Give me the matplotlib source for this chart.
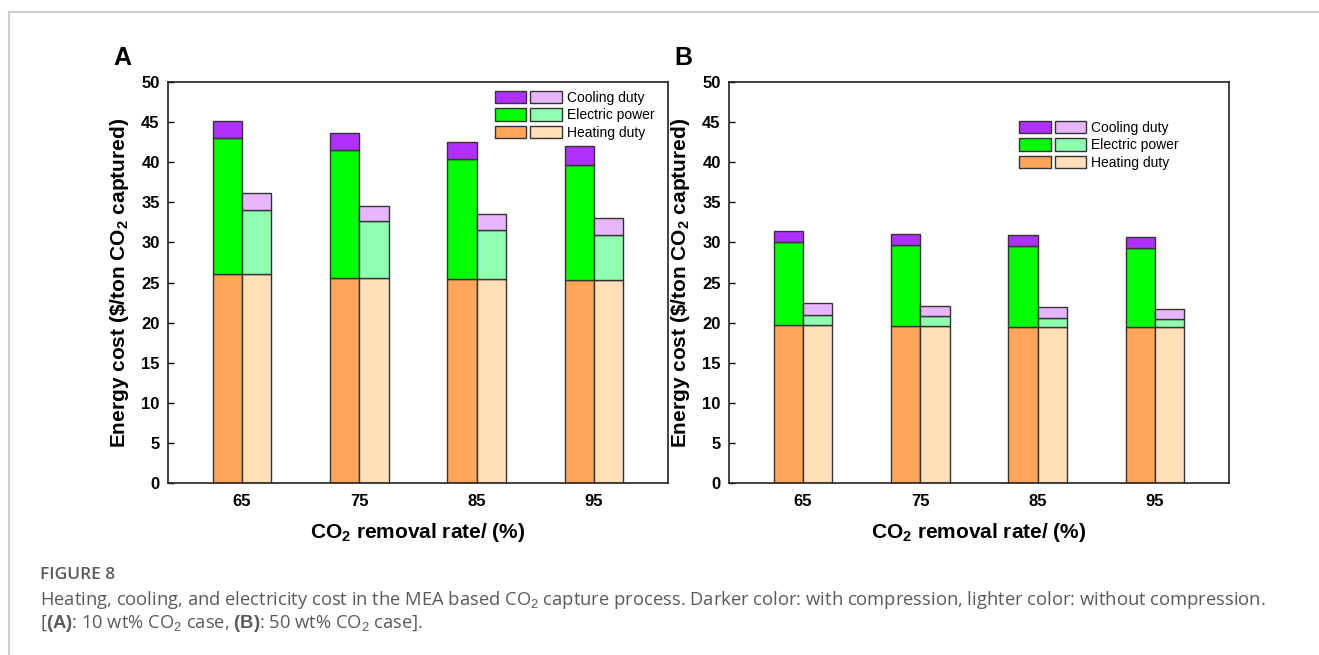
import numpy as np
import matplotlib
matplotlib.use("Agg")
import matplotlib.pyplot as plt
from matplotlib.patches import Patch
from matplotlib.legend_handler import HandlerTuple
from matplotlib.lines import Line2D

plt.rcParams["font.family"] = ["Liberation Sans", "DejaVu Sans"]
plt.rcParams["mathtext.fontset"] = "custom"
plt.rcParams["mathtext.rm"] = "Liberation Sans"
plt.rcParams["mathtext.bf"] = "Liberation Sans:bold"

# -------- data --------

removal_rate = [65, 75, 85, 95]

# (A) 10 wt% CO2 case, $/ton CO2 captured
a_heat_comp = [26.1, 25.6, 25.4, 25.3]
a_elec_comp = [16.9, 15.9, 15.0, 14.4]
a_cool_comp = [2.1, 2.1, 2.1, 2.3]
a_heat_nocomp = [26.1, 25.6, 25.4, 25.3]
a_elec_nocomp = [8.0, 7.1, 6.2, 5.6]
a_cool_nocomp = [2.0, 1.8, 1.9, 2.1]

# (B) 50 wt% CO2 case
b_heat_comp = [19.7, 19.6, 19.5, 19.5]
b_elec_comp = [10.3, 10.1, 10.0, 9.8]
b_cool_comp = [1.4, 1.4, 1.4, 1.4]
b_heat_nocomp = [19.7, 19.6, 19.5, 19.5]
b_elec_nocomp = [1.3, 1.2, 1.1, 1.0]
b_cool_nocomp = [1.4, 1.3, 1.3, 1.2]

labels = ["Cooling duty", "Electric power", "Heating duty"]

# dark = with compression, light = without compression
dark = {"heat": "#FFA65A", "elec": "#00FF00", "cool": "#B030FF"}
light = {"heat": "#FFDEB8", "elec": "#8FFFB0", "cool": "#E8B6FF"}
edge = "#333333"


def stacked_pair(ax, heat_c, elec_c, cool_c, heat_n, elec_n, cool_n, width=2.5):
    x = np.array(removal_rate, dtype=float)
    heat_c, elec_c, cool_c = map(np.array, (heat_c, elec_c, cool_c))
    heat_n, elec_n, cool_n = map(np.array, (heat_n, elec_n, cool_n))
    kw = dict(width=width, edgecolor=edge, linewidth=1.0)
    xc = x - width / 2
    ax.bar(xc, heat_c, color=dark["heat"], **kw)
    ax.bar(xc, elec_c, bottom=heat_c, color=dark["elec"], **kw)
    ax.bar(xc, cool_c, bottom=heat_c + elec_c, color=dark["cool"], **kw)
    xn = x + width / 2
    ax.bar(xn, heat_n, color=light["heat"], **kw)
    ax.bar(xn, elec_n, bottom=heat_n, color=light["elec"], **kw)
    ax.bar(xn, cool_n, bottom=heat_n + elec_n, color=light["cool"], **kw)


def style_axes(ax, letter, legend_anchor):
    ax.set_xlim(58.7, 101.3)
    ax.set_ylim(0, 50)
    ax.set_xticks(removal_rate)
    ax.set_yticks(range(0, 51, 5))
    ax.tick_params(axis="x", length=0, pad=8, labelsize=12)
    ax.tick_params(axis="y", direction="in", length=4, width=1, labelsize=12, pad=6)
    for lab in ax.get_xticklabels() + ax.get_yticklabels():
        lab.set_fontweight("bold")
    for sp in ax.spines.values():
        sp.set_linewidth(1.2)
        sp.set_color("#222222")
    ax.set_xlabel(r"CO$_\mathbf{2}$ removal rate/ (%)", fontsize=15, fontweight="bold")
    ax.set_ylabel(r"Energy cost (\$/ton CO$_\mathbf{2}$ captured)", fontsize=15,
                  fontweight="bold")
    ax.xaxis.set_label_coords(0.5, -0.095)
    ax.yaxis.set_label_coords(-0.074, 0.5)
    ax.text(-0.092, 1.042, letter, transform=ax.transAxes, fontsize=18,
            fontweight="bold", ha="center", va="baseline")

    handles = [
        (Patch(facecolor=dark[k], edgecolor=edge, linewidth=1.0),
         Patch(facecolor=light[k], edgecolor=edge, linewidth=1.0))
        for k in ("cool", "elec", "heat")
    ]
    ax.legend(handles, labels, handler_map={tuple: HandlerTuple(ndivide=None, pad=0.3)},
              loc="upper left", bbox_to_anchor=legend_anchor, frameon=False,
              fontsize=10, handlelength=4.8, handleheight=1.0, labelspacing=0.25,
              handletextpad=0.35, borderpad=0, borderaxespad=0)


fig = plt.figure(figsize=(13.19, 6.55), dpi=100)

axA = fig.add_axes([0.1274, 0.2626, 0.379, 0.6122])
stacked_pair(axA, a_heat_comp, a_elec_comp, a_cool_comp,
             a_heat_nocomp, a_elec_nocomp, a_cool_nocomp)
style_axes(axA, "A", (0.654, 0.978))

axB = fig.add_axes([0.5527, 0.2626, 0.379, 0.6122])
stacked_pair(axB, b_heat_comp, b_elec_comp, b_cool_comp,
             b_heat_nocomp, b_elec_nocomp, b_cool_nocomp)
style_axes(axB, "B", (0.581, 0.903))

# page border lines
W, H = 1319, 655
fig.add_artist(Line2D([9 / W, 1.0], [1 - 12 / H, 1 - 12 / H], color="#cccccc",
                      linewidth=1.5, transform=fig.transFigure))
fig.add_artist(Line2D([9 / W, 9 / W], [0.0, 1 - 12 / H], color="#cccccc",
                      linewidth=1.5, transform=fig.transFigure))

# caption
cap_font = ["Open Sans", "DejaVu Sans"]
cap_color = "#5a5a5a"
fig.text(40 / W, 1 - 575 / H, "FIGURE 8", fontsize=12.5, color=cap_color,
         fontweight="semibold", family=cap_font, va="center")
fig.text(40 / W, 1 - 600 / H,
         r"Heating, cooling, and electricity cost in the MEA based CO$_2$ capture process. "
         "Darker color: with compression, lighter color: without compression.",
         fontsize=13.2, color=cap_color, family=cap_font, va="center")
fig.text(40 / W, 1 - 624 / H,
         r"[$\mathbf{(A)}$: 10 wt% CO$_2$ case, $\mathbf{(B)}$: 50 wt% CO$_2$ case].",
         fontsize=13.2, color=cap_color, family=cap_font, va="center")

fig.savefig("out.png", dpi=100, facecolor="white")
